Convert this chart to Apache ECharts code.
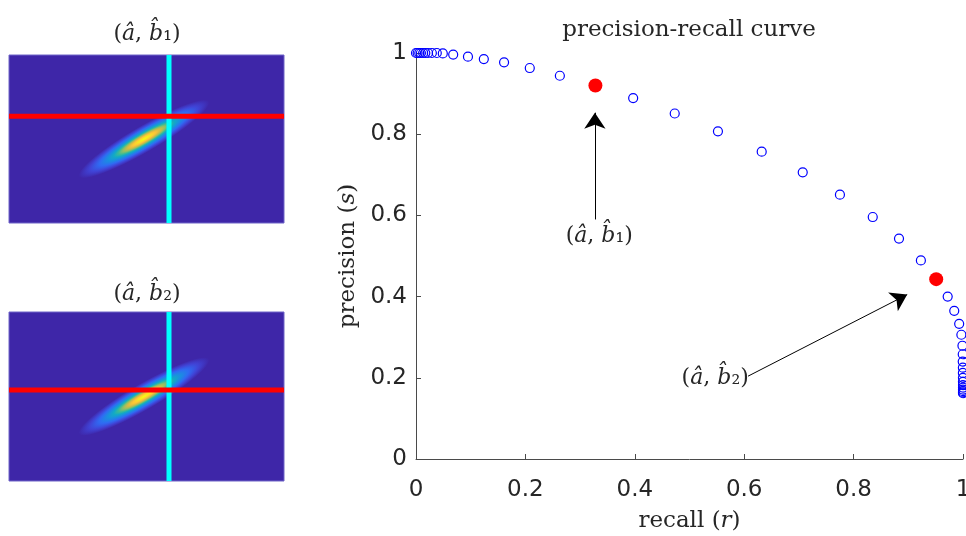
<!DOCTYPE html>
<html><head><meta charset="utf-8">
<script src="https://cdn.jsdelivr.net/npm/echarts@6/dist/echarts.min.js"></script>
<style>html,body{margin:0;padding:0;background:#fff}#c{width:966px;height:536px}</style>
</head><body><div id="c"></div>
<script>
// ---- precision-recall curve ----
const recall = [0.000,0.003,0.006,0.009,0.013,0.017,0.022,0.029,0.038,0.049,0.068,0.095,0.124,0.161,0.208,0.263,0.328,0.397,0.473,0.552,0.632,0.707,0.775,0.835,0.883,0.923,0.951,0.972,0.984,0.993,0.997,0.999,0.9995,0.9995,0.9998,0.9998,0.9999,0.9999,1.000,1.000,1.000,1.000,1.000,1.000];
const precision = [1.000,1.000,1.000,1.000,1.000,1.000,1.000,1.000,1.000,0.999,0.996,0.991,0.985,0.977,0.963,0.944,0.920,0.889,0.851,0.807,0.757,0.706,0.651,0.596,0.543,0.489,0.443,0.400,0.365,0.333,0.306,0.279,0.258,0.240,0.225,0.212,0.200,0.190,0.182,0.176,0.171,0.167,0.164,0.162];
// highlighted operating points (a-hat, b-hat_1) and (a-hat, b-hat_2)
const selRecall = [0.328, 0.951];
const selPrecision = [0.920, 0.443];
// annotations: label anchor, arrow tail, arrow head (data coordinates)
const annotText = ['{n|(}{i|â}{n|, }{i|b̂}{n|₁)}', '{n|(}{i|â}{n|, }{i|b̂}{n|₂)}'];
const annotAt = [[0.335, 0.548], [0.547, 0.199]];
const arrowFrom = [[0.327, 0.590], [0.607, 0.204]];
const arrowTo = [[0.327, 0.853], [0.898, 0.405]];
// axis ticks
const xTicks = [0, 0.2, 0.4, 0.6, 0.8, 1];
const yTicks = [0, 0.2, 0.4, 0.6, 0.8, 1];
// ---- likelihood images (panel units: a 0..275, b 0..168) ----
const panelA = [0, 275];
const panelB = [0, 168];
const blob = [135, 84, 75, 13, 30]; // centre a, centre b, half-length, half-width, angle (deg)
const aHatLine = [160, 160];        // cyan vertical line, per panel
const bHatLine = [106.7, 90.5];     // red horizontal line, per panel
const panelTitles = ['{n|(}{i|â}{n|, }{i|b̂}{n|₁)}', '{n|(}{i|â}{n|, }{i|b̂}{n|₂)}'];

const serif = 'DejaVu Serif';
const txtCol = '#262626';
const richT = {
  n: {fontFamily: serif, fontSize: 22, fontWeight: 'normal', color: txtCol},
  i: {fontFamily: serif, fontSize: 22, fontWeight: 'normal', fontStyle: 'italic', color: txtCol}
};
const richName = {
  n: {fontFamily: serif, fontSize: 23, fontWeight: 'normal', color: txtCol},
  i: {fontFamily: serif, fontSize: 23, fontWeight: 'normal', fontStyle: 'italic', color: txtCol}
};
const parulaStops = [
  {offset: 0, color: '#F9FB0E'}, {offset: 0.09, color: '#F8E422'},
  {offset: 0.17, color: '#FCC537'}, {offset: 0.25, color: '#D2BB45'},
  {offset: 0.32, color: '#8EBF66'}, {offset: 0.39, color: '#3CBA95'},
  {offset: 0.46, color: '#12AAC4'}, {offset: 0.55, color: '#1990DF'},
  {offset: 0.68, color: '#2F6BF3'}, {offset: 0.83, color: '#4043D6'},
  {offset: 1, color: '#3E26A8'}
];

const chart = echarts.init(document.getElementById('c'), null, {renderer: 'canvas'});
const axisCol = '#4a4a4a';
const series = [];

// main curve
series.push({
  type: 'scatter', xAxisIndex: 0, yAxisIndex: 0, clip: false, silent: true,
  data: recall.map((r, i) => [r, precision[i]]),
  symbol: 'circle', symbolSize: 9,
  itemStyle: {color: 'rgba(0,0,0,0)', borderColor: '#0000FF', borderWidth: 1.2, opacity: 1},
  z: 2
});
series.push({
  type: 'scatter', xAxisIndex: 0, yAxisIndex: 0, clip: false, silent: true,
  data: selRecall.map((r, i) => [r, selPrecision[i]]),
  symbol: 'circle', symbolSize: 14,
  itemStyle: {color: '#FF0000', opacity: 1}, z: 3
});
// annotation arrows and labels
series.push({
  type: 'scatter', xAxisIndex: 0, yAxisIndex: 0, clip: false, silent: true,
  data: annotAt.map((p, i) => ({value: p, label: {formatter: annotText[i]}})),
  symbolSize: 1, itemStyle: {color: 'rgba(0,0,0,0)', opacity: 1},
  label: {show: true, position: 'inside', color: txtCol, textBorderWidth: 0, rich: richT},
  markLine: {
    silent: true, animation: false, symbol: ['none', 'arrow'], symbolSize: 16,
    lineStyle: {color: '#000', width: 1, type: 'solid', opacity: 1},
    itemStyle: {color: '#000'}, label: {show: false},
    emphasis: {disabled: true},
    data: arrowFrom.map((f, i) => [{coord: f}, {coord: arrowTo[i]}])
  },
  z: 4
});
// panels
for (let k = 0; k < 2; k++) {
  const ax = k + 1;
  series.push({
    type: 'custom', xAxisIndex: ax, yAxisIndex: ax, silent: true, clip: true,
    data: [blob],
    renderItem: function (params, api) {
      const c = api.coord([api.value(0), api.value(1)]);
      const L = api.size([api.value(2), 0])[0];
      const W = api.size([0, api.value(3)])[1];
      return {
        type: 'circle', shape: {cx: 0, cy: 0, r: L},
        x: c[0], y: c[1], scaleY: W / L, rotation: api.value(4) * Math.PI / 180,
        style: {fill: {type: 'radial', x: 0.5, y: 0.5, r: 0.5, colorStops: parulaStops}}
      };
    }
  });
  series.push({
    type: 'line', xAxisIndex: ax, yAxisIndex: ax, silent: true, symbol: 'none',
    data: [[aHatLine[k], panelB[0]], [aHatLine[k], panelB[1]]],
    lineStyle: {color: '#00FFFF', width: 5}, z: 3
  });
  series.push({
    type: 'line', xAxisIndex: ax, yAxisIndex: ax, silent: true, symbol: 'none',
    data: [[panelA[0], bHatLine[k]], [panelA[1], bHatLine[k]]],
    lineStyle: {color: '#FF0000', width: 5}, z: 4
  });
}

const hiddenX = i => ({type: 'value', gridIndex: i, min: panelA[0], max: panelA[1], show: false});
const hiddenY = i => ({type: 'value', gridIndex: i, min: panelB[0], max: panelB[1], show: false});

chart.setOption({
  animation: false,
  backgroundColor: '#ffffff',
  title: [{
    text: 'precision-recall curve', left: 689, top: 19, textAlign: 'center', padding: 0,
    textStyle: {fontFamily: serif, fontSize: 23, fontWeight: 'normal', color: txtCol}
  }, {
    text: panelTitles[0], left: 147, top: 23, textAlign: 'center', padding: 0,
    textStyle: {fontWeight: 'normal', rich: richT}
  }, {
    text: panelTitles[1], left: 147, top: 283, textAlign: 'center', padding: 0,
    textStyle: {fontWeight: 'normal', rich: richT}
  }],
  grid: [
    {left: 416, top: 53, width: 547, height: 406, outerBoundsMode: 'none', containLabel: false},
    {left: 9, top: 55, width: 275, height: 168, show: true, backgroundColor: '#3E26A8', borderWidth: 1, borderColor: '#6f64c8', outerBoundsMode: 'none'},
    {left: 9, top: 312, width: 275, height: 169, show: true, backgroundColor: '#3E26A8', borderWidth: 1, borderColor: '#6f64c8', outerBoundsMode: 'none'}
  ],
  xAxis: [{
    type: 'value', gridIndex: 0, min: xTicks[0], max: xTicks[xTicks.length - 1], interval: 0.2,
    name: '{n|recall }{n|(}{i|r}{n|)}', nameLocation: 'middle', nameGap: 51,
    nameTextStyle: {rich: richName},
    axisLine: {show: true, onZero: false, lineStyle: {color: axisCol, width: 1}},
    axisTick: {show: true, inside: true, length: 5, lineStyle: {color: axisCol}},
    axisLabel: {fontFamily: 'DejaVu Sans', fontSize: 23, color: txtCol, margin: 20, hideOverlap: false},
    splitLine: {show: false}
  }, hiddenX(1), hiddenX(2)],
  yAxis: [{
    type: 'value', gridIndex: 0, min: yTicks[0], max: yTicks[yTicks.length - 1], interval: 0.2,
    name: '{n|precision }{n|(}{i|s}{n|)}', nameLocation: 'middle', nameGap: 52,
    nameTextStyle: {rich: richName},
    axisLine: {show: true, onZero: false, lineStyle: {color: axisCol, width: 1}},
    axisTick: {show: true, inside: true, length: 5, lineStyle: {color: axisCol}},
    axisLabel: {fontFamily: 'DejaVu Sans', fontSize: 23, color: txtCol, margin: 9},
    splitLine: {show: false}
  }, hiddenY(1), hiddenY(2)],
  series: series
});
</script></body></html>
